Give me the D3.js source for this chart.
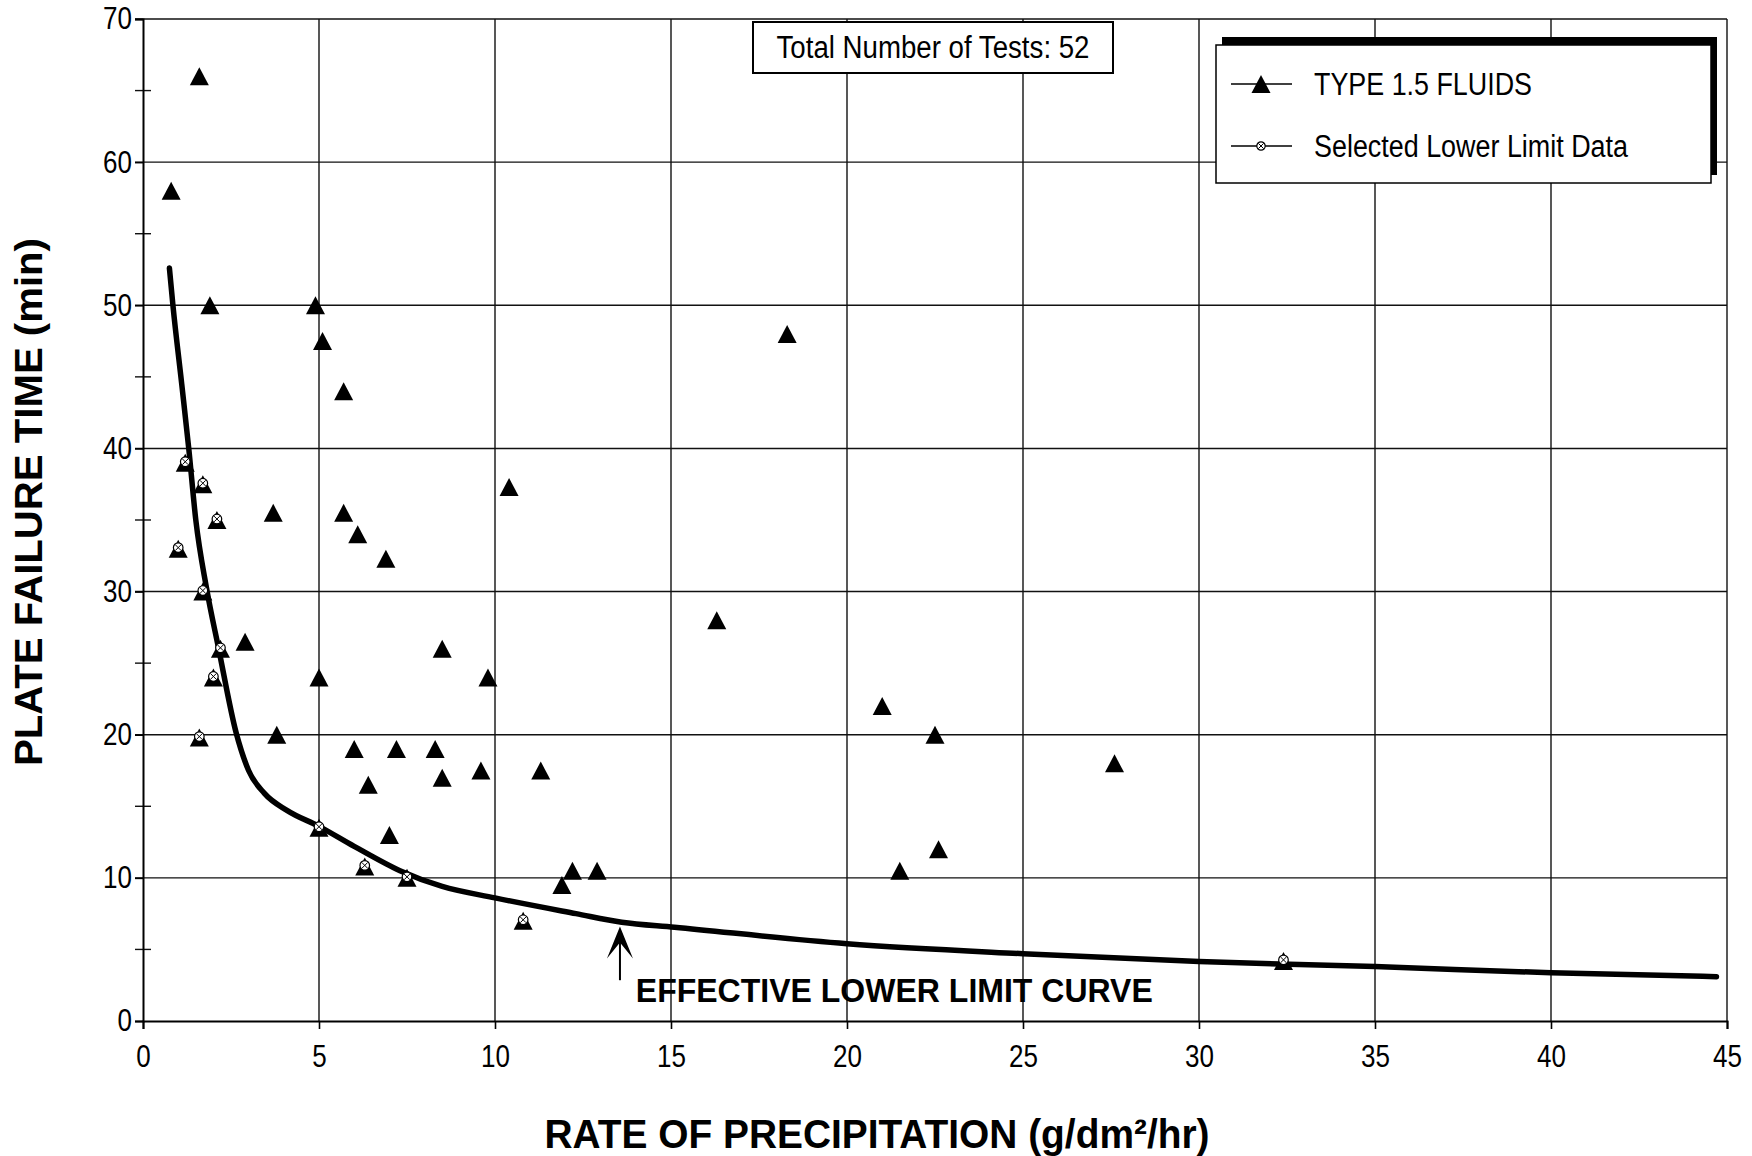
<!DOCTYPE html>
<html><head><meta charset="utf-8">
<script src="https://cdn.jsdelivr.net/npm/d3@7"></script>
<style>body{margin:0;background:#fff} svg{display:block}</style>
</head><body><svg id="c" width="1752" height="1156"></svg>
<script>
// TYPE 1.5 FLUIDS – all test points
const fluidX = [0.8,1.6,1.9,1.2,1.7,2.1,1.0,1.7,2.2,2.0,1.6,2.9,3.7,3.8,4.9,5.1,5.7,5.7,6.1,6.9,5.0,6.0,7.2,6.4,7.0,5.0,6.3,7.5,10.8,8.5,8.3,8.5,9.6,9.8,10.4,11.3,11.9,12.2,12.9,16.3,18.3,21.0,22.5,21.5,22.6,27.6,32.4];
const fluidY = [58,66,50,39,37.5,35,33,30,26,24,19.8,26.5,35.5,20,50,47.5,44,35.5,34,32.3,24,19,19,16.5,13,13.5,10.8,10,7,26,19,17,17.5,24,37.3,17.5,9.5,10.5,10.5,28,48,22,20,10.5,12,18,4.2];
// Selected lower limit data
const selX = [1.2,1.7,2.1,1.0,1.7,2.2,2.0,1.6,5.0,6.3,7.5,10.8,32.4];
const selY = [39,37.5,35,33,30,26,24,19.8,13.5,10.8,10,7,4.2];
// Effective lower limit curve
const curveX = [0.75,0.85,1.1,1.3,1.5,1.8,2.15,2.65,3.0,3.45,4.1,5.0,6.0,7.3,8.5,10,12.3,13.6,15.1,20,25,30,35,40,44.7];
const curveY = [52.6,50,44.5,40,35,30.3,26,20.1,17.5,15.9,14.7,13.6,12.2,10.5,9.4,8.6,7.5,6.9,6.55,5.4,4.7,4.15,3.8,3.37,3.1];
const xTicks = [0,5,10,15,20,25,30,35,40,45];
const yTicks = [0,10,20,30,40,50,60,70];
const yMinor = [5,15,25,35,45,55,65];

const FONT = "'Liberation Sans',Arial,sans-serif";
const svg = d3.select('#c');
const L = 143, R = 1727, T = 19, B = 1021;
const x = d3.scaleLinear().domain([0,45]).range([L,R]);
const y = d3.scaleLinear().domain([0,70]).range([B,T]);

// gridlines
svg.append('g').selectAll('line').data(xTicks.slice(1)).join('line')
  .attr('x1',d=>x(d)).attr('x2',d=>x(d)).attr('y1',T).attr('y2',B)
  .attr('stroke','#111').attr('stroke-width',1.4);
svg.append('g').selectAll('line').data(yTicks.slice(1)).join('line')
  .attr('x1',L-8).attr('x2',R).attr('y1',d=>y(d)).attr('y2',d=>y(d))
  .attr('stroke','#111').attr('stroke-width',1.4);
// minor y ticks
svg.append('g').selectAll('line').data(yMinor).join('line')
  .attr('x1',L-8).attr('x2',L+8).attr('y1',d=>y(d)).attr('y2',d=>y(d))
  .attr('stroke','#111').attr('stroke-width',1.4);

// axes
const xAxis = svg.append('g').attr('transform',`translate(0,${B})`)
  .call(d3.axisBottom(x).tickValues(xTicks).tickSize(8).tickPadding(16).tickFormat(d3.format('d')));
const yAxis = svg.append('g').attr('transform',`translate(${L},0)`)
  .call(d3.axisLeft(y).tickValues(yTicks).tickSize(8).tickPadding(3).tickFormat(d3.format('d')));
[xAxis,yAxis].forEach(a=>{
  a.select('.domain').attr('stroke','#000').attr('stroke-width',2);
  a.selectAll('.tick line').attr('stroke','#000').attr('stroke-width',1.6);
  a.selectAll('.tick text').attr('font-family',FONT).attr('font-size',31).attr('fill','#000');
});
xAxis.selectAll('.tick text').attr('transform','scale(0.84,1)');
yAxis.selectAll('.tick text').attr('x',0).attr('transform','translate(-11,0) scale(0.84,1)');

// curve
const line = d3.line().x(d=>x(d[0])).y(d=>y(d[1])).curve(d3.curveMonotoneX);
svg.append('path').datum(curveX.map((v,i)=>[v,curveY[i]]))
  .attr('d',line).attr('fill','none').attr('stroke','#000').attr('stroke-width',5.5)
  .attr('stroke-linecap','round').attr('stroke-linejoin','round');

// triangle symbol (bbox-centred)
const tri = {draw(ctx,size){const w=19,h=18;ctx.moveTo(0,-h/2);ctx.lineTo(w/2,h/2);ctx.lineTo(-w/2,h/2);ctx.closePath();}};
svg.append('g').selectAll('path').data(fluidX.map((v,i)=>[v,fluidY[i]])).join('path')
  .attr('transform',d=>`translate(${x(d[0])},${y(d[1])})`)
  .attr('d',d3.symbol(tri)()).attr('fill','#000');

function selMarker(g, r){
  g.append('circle').attr('r',r).attr('fill','#fff').attr('stroke','#000').attr('stroke-width',1.2);
  const k=r*0.6;
  g.append('path').attr('d',`M${-k},${-k}L${k},${k}M${-k},${k}L${k},${-k}`).attr('stroke','#000').attr('stroke-width',1);
}
svg.append('g').selectAll('g').data(selX.map((v,i)=>[v,selY[i]])).join('g')
  .attr('transform',d=>`translate(${x(d[0])},${y(d[1])-1})`)
  .each(function(){selMarker(d3.select(this),4.8);});

function fitText(sel, w){ return sel.attr('textLength',w).attr('lengthAdjust','spacingAndGlyphs'); }

// annotation arrow
const ax = x(13.55), tipY = y(6.6), baseY = y(2.85);
svg.append('line').attr('x1',ax).attr('x2',ax).attr('y1',baseY).attr('y2',tipY+4).attr('stroke','#000').attr('stroke-width',2);
svg.append('path').attr('d',`M${ax},${tipY}L${ax+13},${tipY+32}L${ax},${tipY+16}L${ax-13},${tipY+32}Z`).attr('fill','#000');
fitText(svg.append('text').attr('x',x(14.0)).attr('y',y(0)-19).text('EFFECTIVE LOWER LIMIT CURVE')
  .attr('font-family',FONT).attr('font-weight','bold').attr('font-size',33), 517);

// total tests box
svg.append('rect').attr('x',753).attr('y',22).attr('width',360).attr('height',51)
  .attr('fill','#fff').attr('stroke','#000').attr('stroke-width',2);
fitText(svg.append('text').attr('x',933).attr('y',58).attr('text-anchor','middle').text('Total Number of Tests: 52')
  .attr('font-family',FONT).attr('font-size',31), 313);

// legend
const lg = svg.append('g');
lg.append('rect').attr('x',1222).attr('y',37).attr('width',495).attr('height',138).attr('fill','#000');
lg.append('rect').attr('x',1216).attr('y',45).attr('width',495).attr('height',138).attr('fill','#fff').attr('stroke','#000').attr('stroke-width',1.5);
const ents = [{label:'TYPE 1.5 FLUIDS',y:84,kind:'tri',w:218},{label:'Selected Lower Limit Data',y:146,kind:'sel',w:314}];
ents.forEach(e=>{
  lg.append('line').attr('x1',1231).attr('x2',1292).attr('y1',e.y).attr('y2',e.y).attr('stroke','#000').attr('stroke-width',1.4);
  if(e.kind==='tri') lg.append('path').attr('transform',`translate(1261,${e.y})`).attr('d',d3.symbol(tri)()).attr('fill','#000');
  else selMarker(lg.append('g').attr('transform',`translate(1261,${e.y})`),4.2);
  fitText(lg.append('text').attr('x',1314).attr('y',e.y+11).text(e.label).attr('font-family',FONT).attr('font-size',31), e.w);
});

// axis titles
fitText(svg.append('text').attr('transform',`translate(42,502) rotate(-90)`).attr('text-anchor','middle')
  .text('PLATE FAILURE TIME (min)').attr('font-family',FONT).attr('font-weight','bold').attr('font-size',38), 528);
fitText(svg.append('text').attr('x',877).attr('y',1148).attr('text-anchor','middle')
  .text('RATE OF PRECIPITATION (g/dm²/hr)').attr('font-family',FONT).attr('font-weight','bold').attr('font-size',40), 665);
</script></body></html>
